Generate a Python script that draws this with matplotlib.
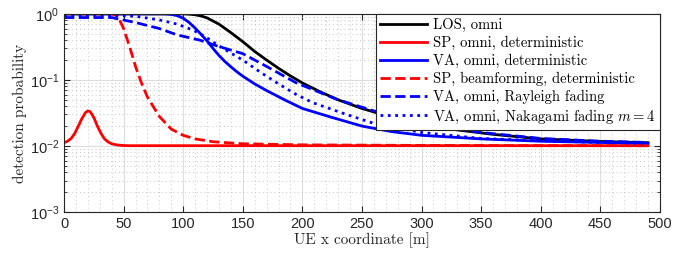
import matplotlib
matplotlib.use('Agg')
import matplotlib.pyplot as plt
from matplotlib.font_manager import FontProperties
from matplotlib.ticker import LogLocator, MultipleLocator, NullFormatter

x_los = [0, 50, 100, 105, 110, 115, 120, 130, 140, 150, 160, 170, 180, 190, 200, 215,
         230, 250, 270, 300, 330, 360, 400, 450, 490]
p_los = [1.0, 1.0, 1.0, 0.99, 0.97, 0.93, 0.87, 0.7, 0.52, 0.38, 0.27, 0.2, 0.15,
         0.115, 0.09, 0.066, 0.05, 0.037, 0.029, 0.021, 0.0175, 0.015, 0.0128,
         0.0117, 0.0112]

x_sp = [0, 3, 6, 9, 12, 15, 18, 20, 22, 25, 28, 31, 34, 37, 40, 44, 48, 55, 70, 100,
        200, 300, 400, 490]
p_sp = [0.0112, 0.0118, 0.013, 0.0155, 0.02, 0.026, 0.032, 0.034, 0.033, 0.027,
        0.02, 0.0155, 0.0128, 0.0115, 0.0108, 0.0104, 0.0102, 0.0101, 0.0101, 0.0101,
        0.0101, 0.0101, 0.0101, 0.0101]

x_va = [0, 50, 85, 90, 95, 100, 105, 110, 115, 120, 125, 130, 135, 140, 145, 150,
        160, 170, 185, 200, 225, 250, 275, 300, 350, 400, 450, 490]
p_va = [1.0, 1.0, 1.0, 0.98, 0.94, 0.86, 0.74, 0.61, 0.49, 0.39, 0.3, 0.235, 0.19,
        0.158, 0.133, 0.114, 0.087, 0.069, 0.05, 0.037, 0.027, 0.02, 0.0165, 0.0145,
        0.0128, 0.0118, 0.0113, 0.011]

x_sp_bf = [0, 40, 45, 50, 55, 60, 65, 70, 80, 90, 100, 110, 125, 150, 200, 300,
           400, 490]
p_sp_bf = [1.0, 1.0, 0.93, 0.6, 0.32, 0.16, 0.09, 0.055, 0.028, 0.018, 0.0145,
           0.0128, 0.0116, 0.0108, 0.0104, 0.0102, 0.0101, 0.0101]

x_ray = [0, 40, 60, 80, 95, 114, 130, 150, 170, 195, 230, 260, 300, 350, 400, 450, 490]
p_ray = [0.88, 0.88, 0.74, 0.6, 0.48, 0.4, 0.32, 0.25, 0.16, 0.09, 0.05, 0.034,
         0.022, 0.016, 0.013, 0.0118, 0.0113]

x_nak = [0, 20, 40, 60, 80, 95, 108, 114, 122, 131, 140, 150, 165, 181, 195, 209,
         237, 260, 300, 350, 400, 450, 490]
p_nak = [0.93, 0.95, 0.95, 0.92, 0.81, 0.7, 0.57, 0.5, 0.41, 0.32, 0.255, 0.2, 0.13,
         0.085, 0.06, 0.045, 0.03, 0.022, 0.016, 0.013, 0.012, 0.0113, 0.011]

labels = ['LOS, omni', 'SP, omni, deterministic', 'VA, omni, deterministic',
          'SP, beamforming, deterministic', 'VA, omni, Rayleigh fading',
          r'VA, omni, Nakagami fading $m=4$']

tick_font = 'Liberation Sans'
serif = FontProperties(family='cmr10', size=11, math_fontfamily='cm')
leg_font = FontProperties(family='cmr10', size=10.5, math_fontfamily='cm')

fig = plt.figure(figsize=(6.81, 2.57), dpi=100)
ax = fig.add_axes([0.094, 0.175, 0.875, 0.771])

ax.plot(x_los, p_los, color='k', lw=2, label=labels[0])
ax.plot(x_sp, p_sp, color='r', lw=2, label=labels[1])
ax.plot(x_va, p_va, color='b', lw=2, label=labels[2])
ax.plot(x_sp_bf, p_sp_bf, color='r', lw=2, ls='--', label=labels[3])
ax.plot(x_ray, p_ray, color='b', lw=2, ls='--', label=labels[4])
ax.plot(x_nak, p_nak, color='b', lw=2, ls=':', label=labels[5])

ax.set_yscale('log')
ax.set_xlim(0, 500)
ax.set_ylim(1e-3, 1)
ax.xaxis.set_major_locator(MultipleLocator(50))
ax.xaxis.set_minor_locator(MultipleLocator(10))
ax.yaxis.set_major_locator(LogLocator(base=10, numticks=10))
ax.yaxis.set_minor_locator(LogLocator(base=10, subs=range(2, 10), numticks=10))
ax.yaxis.set_minor_formatter(NullFormatter())

ax.grid(True, which='major', color='#dedede', lw=0.8)
ax.grid(True, which='minor', color='#c8c8c8', lw=0.7, ls=(0, (1, 3)))
ax.set_axisbelow(True)

ax.tick_params(which='both', direction='in', top=True, right=True,
               colors='#262626', labelsize=10.5)
ax.tick_params(which='major', length=4)
ax.tick_params(which='minor', length=2)
ax.tick_params(axis='x', which='minor', length=0)
for lab in ax.get_xticklabels() + ax.get_yticklabels():
    lab.set_fontfamily(tick_font)
for s in ax.spines.values():
    s.set_color('#262626')
    s.set_linewidth(0.8)

ax.set_xlabel('UE x coordinate [m]', fontproperties=serif, color='#262626', labelpad=1)
ax.set_ylabel('detection probability', fontproperties=serif, color='#262626', labelpad=2)

leg = ax.legend(loc='upper right', borderaxespad=0, prop=leg_font, fancybox=False,
                framealpha=1, edgecolor='#262626', handlelength=3.2,
                handletextpad=0.45, labelspacing=0.25, borderpad=0.3)
leg.get_frame().set_linewidth(0.8)

fig.savefig('out.png', dpi=100)
